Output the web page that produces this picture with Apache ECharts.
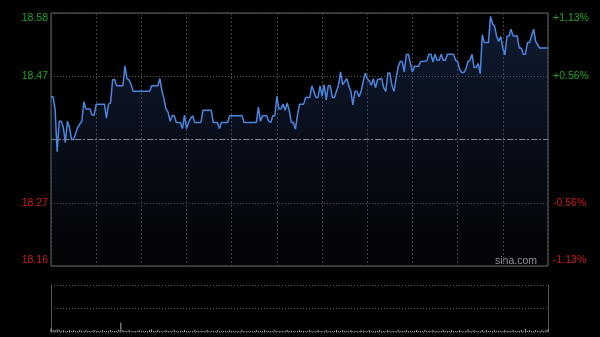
<!DOCTYPE html>
<html><head><meta charset="utf-8">
<script src="https://cdn.jsdelivr.net/npm/echarts@6/dist/echarts.min.js"></script>
<style>html,body{margin:0;padding:0;background:#000;}#c{width:600px;height:337px;}</style>
</head><body><div id="c"></div>
<script>
const prevClose = 18.37;
const pctRange = 1.13;
const leftTickLabels = ['18.16', '18.27', '', '18.47', '18.58'];
const rightTickLabels = ['-1.13%', '-0.56%', '', '+0.56%', '+1.13%'];
const tickColors = ['#d01818', '#d01818', '#888', '#1fa51f', '#1fa51f'];

// intraday vertices: minute index (0..242) and price
const minutes = [0,1,2,3,4,5,6,7,8,9,10,11,12,13,14,15,16,17,19,20,21,22,26,27,28,29,30,31,32,35,36,37,38,39,40,48,
49,52,53,54,55,56,57,58,59,60,61,63,64,65,66,67,68,69,70,73,74,78,79,81,82,83,86,87,93,94,100,
101,102,103,105,106,107,108,109,110,111,112,113,114,115,116,117,118,119,120,121,123,124,126,127,128,129,130,131,132,133,134,135,136,137,138,139,140,141,142,143,144,145,
146,147,148,149,150,151,152,153,154,155,156,157,158,159,161,162,163,164,165,166,167,168,169,170,171,172,173,174,175,176,177,179,180,183,184,185,186,187,188,189,190,191,192,193,194,
196,197,198,199,200,201,202,203,204,205,206,207,208,209,210,211,213,214,215,216,217,218,219,220,221,222,223,224,225,227,228,229,230,231,232,233,235,236,237,238,242];
const prices = [18.44,18.44,18.42,18.35,18.40,18.40,18.39,18.365,18.40,18.39,18.37,18.37,18.38,18.39,18.395,18.40,18.432,18.42,18.42,18.41,18.41,18.428,18.428,18.405,18.428,18.43,18.468,18.468,18.458,18.458,18.491,18.47,18.468,18.46,18.449,18.449,
18.458,18.458,18.47,18.45,18.437,18.42,18.415,18.40,18.409,18.409,18.398,18.398,18.388,18.41,18.388,18.398,18.405,18.409,18.398,18.398,18.418,18.418,18.398,18.398,18.388,18.398,18.398,18.409,18.409,18.398,18.398,
18.423,18.40,18.409,18.409,18.40,18.398,18.409,18.409,18.441,18.42,18.42,18.428,18.418,18.43,18.418,18.398,18.398,18.387,18.41,18.428,18.428,18.439,18.439,18.458,18.449,18.439,18.439,18.458,18.441,18.46,18.435,18.458,18.458,18.439,18.439,18.449,18.46,18.481,18.46,18.465,18.47,18.458,
18.449,18.427,18.449,18.449,18.44,18.449,18.465,18.479,18.47,18.466,18.459,18.47,18.455,18.468,18.47,18.455,18.449,18.479,18.479,18.459,18.449,18.47,18.489,18.498,18.498,18.481,18.509,18.51,18.495,18.481,18.49,18.49,18.498,18.499,18.51,18.51,18.497,18.51,18.50,18.50,18.51,18.50,18.50,18.51,18.51,
18.51,18.50,18.498,18.485,18.48,18.48,18.485,18.498,18.50,18.51,18.488,18.488,18.495,18.478,18.542,18.529,18.529,18.572,18.56,18.556,18.539,18.531,18.539,18.52,18.509,18.539,18.54,18.551,18.54,18.54,18.52,18.52,18.51,18.51,18.529,18.529,18.551,18.531,18.525,18.52,18.52];

// per-minute volume (relative units)
const volumes = [4,2,2,3,2,1,2,1,1,2,1,2,1,1,2,1,1,2,1,1,
1,2,1,1,1,2,1,1,1,2,1,1,1,2,10,2,1,1,2,1,
1,1,1,2,1,1,1,1,2,3,1,1,2,1,1,1,2,1,1,1,
2,1,1,1,1,2,1,1,1,1,2,1,1,1,1,1,2,1,1,1,
1,2,1,1,1,1,1,2,1,1,1,1,1,2,1,1,1,1,1,1,
2,1,1,1,2,1,1,1,1,2,1,1,1,1,1,2,1,1,1,1,
1,2,1,1,1,1,2,1,1,1,2,1,1,1,2,1,1,1,1,2,
1,1,2,1,1,1,2,1,1,1,1,2,1,1,1,2,1,1,1,1,
2,1,1,1,2,1,1,1,1,2,1,1,1,2,1,1,1,1,2,1,
1,1,2,1,1,1,2,1,1,1,1,2,1,1,1,2,1,1,1,2,
1,1,1,3,1,1,2,1,1,1,2,1,2,1,1,1,2,1,1,1,
1,2,1,1,1,2,1,1,1,2,1,3,1,2,1,1,2,1,1,2,
1,2,3];

const priceData = minutes.map((m, i) => [m, (prices[i] / prevClose - 1) * 100]);
const volData = volumes.map((v, i) => [i, v]);

const chart = echarts.init(document.getElementById('c'), null, {renderer: 'canvas'});
const FONT = '"Liberation Sans", Arial, sans-serif';
const gridCol = '#444';

chart.setOption({
  backgroundColor: '#000',
  animation: false,
  grid: [
    {left: 51, right: 52, top: 13, height: 253, show: true, borderColor: '#666', borderWidth: 1, backgroundColor: 'transparent'},
    {left: 51, right: 52, top: 285, height: 47}
  ],
  xAxis: [
    {type: 'value', gridIndex: 0, min: 0, max: 242, interval: 22,
     axisLine: {show: false}, axisTick: {show: false}, axisLabel: {show: false},
     splitLine: {show: true, lineStyle: {color: gridCol, type: [2, 2], width: 1}}},
    {type: 'value', gridIndex: 1, min: 0, max: 242, interval: 22,
     axisLine: {show: false}, axisTick: {show: false}, axisLabel: {show: false}, splitLine: {show: false}}
  ],
  yAxis: [
    {type: 'value', gridIndex: 0, min: -pctRange, max: pctRange, interval: pctRange / 2, position: 'left',
     axisLine: {show: false}, axisTick: {show: false},
     axisLabel: {show: true, fontFamily: FONT, fontSize: 10.5, margin: 3,
       verticalAlignMinLabel: 'bottom', verticalAlignMaxLabel: 'top',
       formatter: (v, i) => leftTickLabels[i],
       color: (v, i) => tickColors[i]},
     splitLine: {show: true, lineStyle: {color: '#555', type: [1, 2], width: 1}}},
    {type: 'value', gridIndex: 0, min: -pctRange, max: pctRange, interval: pctRange / 2, position: 'right',
     axisLine: {show: false}, axisTick: {show: false},
     axisLabel: {show: true, fontFamily: FONT, fontSize: 10.5, margin: 5,
       verticalAlignMinLabel: 'bottom', verticalAlignMaxLabel: 'top',
       formatter: (v, i) => rightTickLabels[i],
       color: (v, i) => tickColors[i]},
     splitLine: {show: false}},
    {type: 'value', gridIndex: 1, min: 0, max: 50, interval: 25, position: 'left',
     axisLine: {show: true, lineStyle: {color: '#555'}}, axisTick: {show: false}, axisLabel: {show: false},
     splitLine: {show: true, lineStyle: {color: '#555', type: [1, 2], width: 1}}},
    {type: 'value', gridIndex: 1, min: 0, max: 50, interval: 25, position: 'right',
     axisLine: {show: true, lineStyle: {color: '#555'}}, axisTick: {show: false}, axisLabel: {show: false},
     splitLine: {show: false}}
  ],
  series: [
    {type: 'line', xAxisIndex: 0, yAxisIndex: 0, data: priceData, symbol: 'none', smooth: false,
     lineStyle: {color: '#4d86e0', width: 1.5},
     areaStyle: {origin: 'start', color: new echarts.graphic.LinearGradient(0, 0, 0, 1, [
       {offset: 0, color: 'rgba(50,85,155,0.48)'},
       {offset: 1, color: 'rgba(30,50,90,0.10)'}
     ])},
     markLine: {silent: true, symbol: 'none', label: {show: false},
       lineStyle: {color: '#7a8494', type: [6, 2, 2, 2], width: 1},
       data: [{yAxis: 0}]}
    },
    {type: 'bar', xAxisIndex: 1, yAxisIndex: 2, data: volData, barWidth: 1,
     itemStyle: {color: '#aaa'}}
  ],
  graphic: [
    {type: 'text', right: 63, top: 256, style: {text: 'sina.com', fill: '#9a9a9a', font: '10.5px ' + FONT}}
  ]
});
</script>
</body></html>
